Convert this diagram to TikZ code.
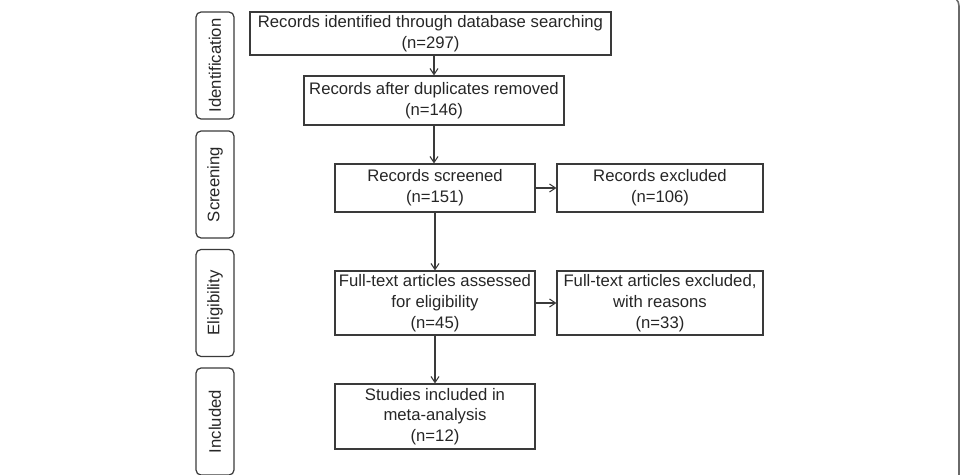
\documentclass[tikz,border=0pt]{standalone}
\usepackage{fontspec}
\setmainfont{Liberation Sans}
\usetikzlibrary{arrows.meta}
\definecolor{linegray}{HTML}{3A3A3A}
\definecolor{framegray}{HTML}{6A6A6A}
\begin{document}
\begin{tikzpicture}[x=0.02cm, y=-0.02cm, >={Straight Barb[length=1.2mm,width=1.6mm]},
    font=\fontsize{9.5}{11.8}\selectfont, text=black!85,
    box/.style={draw=linegray, line width=0.7pt, inner sep=0pt, align=center},
    stage/.style={draw=linegray, line width=0.7pt, rounded corners=0.1cm, rotate=90,
        minimum width=2.14cm, minimum height=0.76cm, inner sep=0pt},
    link/.style={->, draw=linegray, line width=0.6pt}]
    \useasboundingbox (0,0) rectangle (963,474);
    \draw[framegray, line width=0.9pt, rounded corners=0.2cm] (-4,-4) rectangle (959,520);
% stages
    \node[stage] (sid) at (215,65.5) {Identification};
    \node[stage] (sscr) at (215,184.5) {Screening};
    \node[stage] (sel) at (215,303) {Eligibility};
    \node[stage] (sinc) at (215,421.5) {Included};
% flow boxes
    \node[box, minimum width=7.22cm, minimum height=0.86cm] (found) at (430.5,33.5)
        {Records identified through database searching\\(n=297)};
    \node[box, minimum width=5.2cm, minimum height=0.98cm] (dup) at (434,100.5)
        {Records after duplicates removed\\(n=146)};
    \node[box, minimum width=4cm, minimum height=0.96cm] (scr) at (435,188)
        {Records screened\\(n=151)};
    \node[box, minimum width=4.12cm, minimum height=0.96cm] (exc) at (660,188)
        {Records excluded\\(n=106)};
    \node[box, minimum width=4cm, minimum height=1.28cm] (full) at (435,303)
        {Full-text articles assessed\\for eligibility\\(n=45)};
    \node[box, minimum width=4.12cm, minimum height=1.28cm] (fexc) at (660,303)
        {Full-text articles excluded,\\with reasons\\(n=33)};
    \node[box, minimum width=4cm, minimum height=1.3cm] (incl) at (435,416.5)
        {Studies included in\\meta-analysis\\(n=12)};
% arrows
    \draw[link] (dup.north |- found.south) -- (dup.north);
    \draw[link] (dup.south) -- (dup.south |- scr.north);
    \draw[link] (scr) -- (exc);
    \draw[link] (scr) -- (full);
    \draw[link] (full) -- (fexc);
    \draw[link] (full) -- (incl);
\end{tikzpicture}
\end{document}
